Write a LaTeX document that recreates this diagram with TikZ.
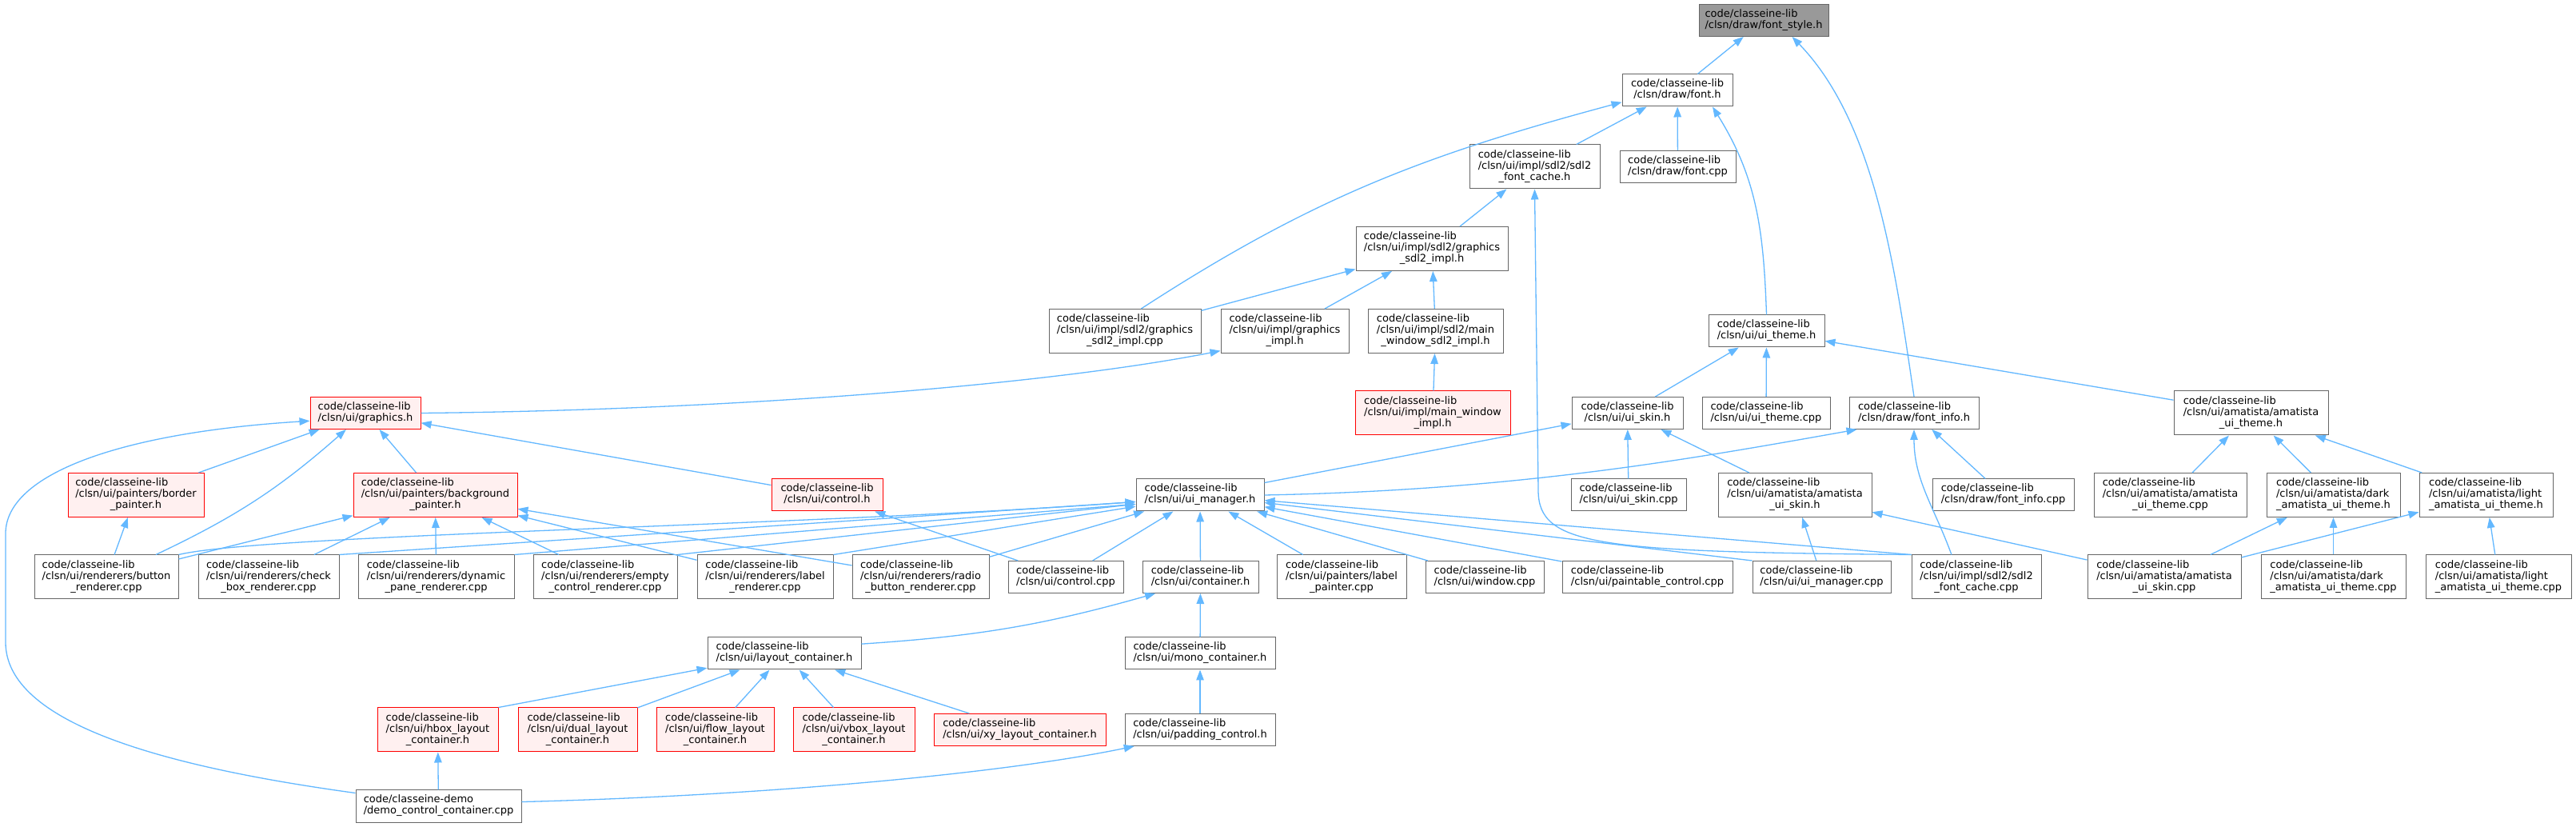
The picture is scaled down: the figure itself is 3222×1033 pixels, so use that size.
\documentclass[tikz,border=0pt]{standalone}
\usepackage{fontspec}
\setmainfont{DejaVu Sans}
\usepackage{tikz}
\usetikzlibrary{arrows.meta}
\definecolor{edgeblue}{HTML}{63B8FF}
\definecolor{boxgray}{HTML}{666666}
\definecolor{rootgray}{HTML}{999999}
\definecolor{truncred}{HTML}{FF0000}
\definecolor{truncfill}{HTML}{FFF0F0}
\newcommand{\libdir}{code/classeine-lib}
\newcommand{\twoline}[1]{\begin{tabular}{@{}l@{}}\libdir\\\multicolumn{1}{@{}c@{}}{#1}\end{tabular}}
\newcommand{\threeline}[2]{\begin{tabular}{@{}l@{}}\libdir\\#1\\\multicolumn{1}{@{}c@{}}{#2}\end{tabular}}
\tikzset{
    every node/.style={font=\fontsize{13}{14}\selectfont},
    filebox/.style={draw=boxgray,fill=white,line width=1pt,inner sep=0pt,minimum height=40pt},
    tallbox/.style={filebox,minimum height=55pt},
    trunc/.style={draw=truncred,fill=truncfill},
    rootbox/.style={fill=rootgray},
    incl/.style={draw=edgeblue,line width=1.3pt,-{Triangle[length=13pt,width=9.5pt]}}
}
\begin{document}
\begin{tikzpicture}[x=1pt,y=1pt]
\fill[white] (0,0) rectangle (3222,1033);
\useasboundingbox (0,0) rectangle (3222,1033);

\node[filebox,rootbox,minimum width=162pt] (fstyle) at (2206,1007.5) {\twoline{/clsn/draw/font\_style.h}};
\node[filebox,minimum width=138pt] (fonth) at (2098,920) {\twoline{/clsn/draw/font.h}};
\node[tallbox,minimum width=163pt] (sdlfch) at (1919.5,824.5) {\threeline{/clsn/ui/impl/sdl2/sdl2}{\_font\_cache.h}};
\node[filebox,minimum width=145pt] (fontcpp) at (2098.5,824.5) {\twoline{/clsn/draw/font.cpp}};
\node[tallbox,minimum width=190pt] (gsdlh) at (1791,722) {\threeline{/clsn/ui/impl/sdl2/graphics}{\_sdl2\_impl.h}};
\node[tallbox,minimum width=190pt] (gsdlcpp) at (1407,619) {\threeline{/clsn/ui/impl/sdl2/graphics}{\_sdl2\_impl.cpp}};
\node[tallbox,minimum width=160pt] (gimplh) at (1607,619) {\threeline{/clsn/ui/impl/graphics}{\_impl.h}};
\node[tallbox,minimum width=169pt] (mwsdlh) at (1795.5,619) {\threeline{/clsn/ui/impl/sdl2/main}{\_window\_sdl2\_impl.h}};
\node[filebox,minimum width=145pt] (uithemeh) at (2209.5,619) {\twoline{/clsn/ui/ui\_theme.h}};
\node[filebox,trunc,minimum width=138pt] (graphicsh) at (457,516.5) {\twoline{/clsn/ui/graphics.h}};
\node[tallbox,trunc,minimum width=194pt] (mwimplh) at (1792,516.5) {\threeline{/clsn/ui/impl/main\_window}{\_impl.h}};
\node[filebox,minimum width=139pt] (uiskinh) at (2035.5,516.5) {\twoline{/clsn/ui/ui\_skin.h}};
\node[filebox,minimum width=160pt] (uithemecpp) at (2209,516.5) {\twoline{/clsn/ui/ui\_theme.cpp}};
\node[filebox,minimum width=162pt] (fontinfoh) at (2394,516.5) {\twoline{/clsn/draw/font\_info.h}};
\node[tallbox,minimum width=193pt] (amathemeh) at (2815.5,516.5) {\threeline{/clsn/ui/amatista/amatista}{\_ui\_theme.h}};
\node[tallbox,trunc,minimum width=170pt] (borderh) at (170,414) {\threeline{/clsn/ui/painters/border}{\_painter.h}};
\node[tallbox,trunc,minimum width=205pt] (bgpainterh) at (544.5,414) {\threeline{/clsn/ui/painters/background}{\_painter.h}};
\node[filebox,trunc,minimum width=139pt] (controlh) at (1034.5,414) {\twoline{/clsn/ui/control.h}};
\node[filebox,minimum width=160pt] (uimgrh) at (1501,414) {\twoline{/clsn/ui/ui\_manager.h}};
\node[filebox,minimum width=144pt] (uiskincpp) at (2037,414) {\twoline{/clsn/ui/ui\_skin.cpp}};
\node[tallbox,minimum width=192pt] (amaskinh) at (2245,414) {\threeline{/clsn/ui/amatista/amatista}{\_ui\_skin.h}};
\node[filebox,minimum width=177pt] (fontinfocpp) at (2505.5,414) {\twoline{/clsn/draw/font\_info.cpp}};
\node[tallbox,minimum width=191pt] (amathemecpp) at (2714.5,414) {\threeline{/clsn/ui/amatista/amatista}{\_ui\_theme.cpp}};
\node[tallbox,minimum width=167pt] (darkh) at (2918.5,414) {\threeline{/clsn/ui/amatista/dark}{\_amatista\_ui\_theme.h}};
\node[tallbox,minimum width=167pt] (lighth) at (3109.5,414) {\threeline{/clsn/ui/amatista/light}{\_amatista\_ui\_theme.h}};
\node[tallbox,minimum width=180pt] (btnr) at (133,311.5) {\threeline{/clsn/ui/renderers/button}{\_renderer.cpp}};
\node[tallbox,minimum width=176pt] (chkr) at (336,311.5) {\threeline{/clsn/ui/renderers/check}{\_box\_renderer.cpp}};
\node[tallbox,minimum width=195pt] (dynr) at (545.5,311.5) {\threeline{/clsn/ui/renderers/dynamic}{\_pane\_renderer.cpp}};
\node[tallbox,minimum width=180pt] (empr) at (757,311.5) {\threeline{/clsn/ui/renderers/empty}{\_control\_renderer.cpp}};
\node[tallbox,minimum width=170pt] (lblr) at (957,311.5) {\threeline{/clsn/ui/renderers/label}{\_renderer.cpp}};
\node[tallbox,minimum width=171pt] (radr) at (1151.5,311.5) {\threeline{/clsn/ui/renderers/radio}{\_button\_renderer.cpp}};
\node[filebox,minimum width=144pt] (ctrlcpp) at (1333,311.5) {\twoline{/clsn/ui/control.cpp}};
\node[filebox,minimum width=145pt] (contnh) at (1501.5,311.5) {\twoline{/clsn/ui/container.h}};
\node[tallbox,minimum width=162pt] (lblpcpp) at (1678,311.5) {\threeline{/clsn/ui/painters/label}{\_painter.cpp}};
\node[filebox,minimum width=148pt] (wincpp) at (1857,311.5) {\twoline{/clsn/ui/window.cpp}};
\node[filebox,minimum width=213pt] (paintcpp) at (2060.5,311.5) {\twoline{/clsn/ui/paintable\_control.cpp}};
\node[filebox,minimum width=173pt] (uimgrcpp) at (2278.5,311.5) {\twoline{/clsn/ui/ui\_manager.cpp}};
\node[tallbox,minimum width=162pt] (sdlfccpp) at (2472,311.5) {\threeline{/clsn/ui/impl/sdl2/sdl2}{\_font\_cache.cpp}};
\node[tallbox,minimum width=192pt] (amaskincpp) at (2707,311.5) {\threeline{/clsn/ui/amatista/amatista}{\_ui\_skin.cpp}};
\node[tallbox,minimum width=181pt] (darkcpp) at (2918.5,311.5) {\threeline{/clsn/ui/amatista/dark}{\_amatista\_ui\_theme.cpp}};
\node[tallbox,minimum width=182pt] (lightcpp) at (3125,311.5) {\threeline{/clsn/ui/amatista/light}{\_amatista\_ui\_theme.cpp}};
\node[filebox,minimum width=192pt] (layouth) at (981,216) {\twoline{/clsn/ui/layout\_container.h}};
\node[filebox,minimum width=188pt] (monoh) at (1501,216) {\twoline{/clsn/ui/mono\_container.h}};
\node[tallbox,trunc,minimum width=151pt] (hboxh) at (547.5,120.5) {\threeline{/clsn/ui/hbox\_layout}{\_container.h}};
\node[tallbox,trunc,minimum width=149pt] (dualh) at (722.5,120.5) {\threeline{/clsn/ui/dual\_layout}{\_container.h}};
\node[tallbox,trunc,minimum width=147pt] (flowh) at (894.5,120.5) {\threeline{/clsn/ui/flow\_layout}{\_container.h}};
\node[tallbox,trunc,minimum width=152pt] (vboxh) at (1068,120.5) {\threeline{/clsn/ui/vbox\_layout}{\_container.h}};
\node[filebox,trunc,minimum width=215pt] (xyh) at (1275.5,120.5) {\twoline{/clsn/ui/xy\_layout\_container.h}};
\node[filebox,minimum width=188pt] (paddingh) at (1501,120.5) {\twoline{/clsn/ui/padding\_control.h}};
\node[filebox,minimum width=207pt] (democpp) at (548.5,25) {\begin{tabular}{@{}l@{}}code/classeine-demo\\/demo\_control\_container.cpp\end{tabular}};

\draw[incl] (fonth) -- (fstyle);
\draw[incl] (fontinfoh.north) .. controls (2370,700) and (2345,880) .. (fstyle.-30);
\draw[incl] (sdlfch) -- (fonth);
\draw[incl] (fontcpp) -- (fonth);
\draw[incl] (gsdlcpp.54) to[out=33,in=195] (fonth.192);
\draw[incl] (uithemeh.north) to[out=92,in=-58] (fonth.-25);
\draw[incl] (gsdlh) -- (sdlfch);
\draw[incl] (sdlfccpp.north west) .. controls (2000,343) and (1924,350) .. (1924,420) -- (sdlfch.south);
\draw[incl] (gsdlcpp) -- (gsdlh);
\draw[incl] (gimplh) -- (gsdlh);
\draw[incl] (mwsdlh) -- (gsdlh);
\draw[incl] (graphicsh.east) .. controls (900,520) and (1300,550) .. (gimplh.197);
\draw[incl] (mwimplh) -- (mwsdlh);
\draw[incl] (uiskinh) -- (uithemeh);
\draw[incl] (uithemecpp) -- (uithemeh);
\draw[incl] (amathemeh) -- (uithemeh);
\draw[incl] (uimgrh.east) .. controls (1900,420) and (2120,460) .. (fontinfoh.196);
\draw[incl] (sdlfccpp.138) to[out=110,in=-90] (fontinfoh.south);
\draw[incl] (fontinfocpp) -- (fontinfoh);
\draw[incl] (borderh) -- (graphicsh);
\draw[incl] (bgpainterh) -- (graphicsh);
\draw[incl] (controlh) -- (graphicsh);
\draw[incl] (btnr) to[bend right=8] (graphicsh);
\draw[incl] (democpp.171) .. controls (200,75) and (7,130) .. (7,230) -- (7,366) .. controls (7,440) and (150,492) .. (graphicsh.188);
\draw[incl] (uimgrh) -- (uiskinh);
\draw[incl] (uiskincpp) -- (uiskinh);
\draw[incl] (amaskinh) -- (uiskinh);
\draw[incl] (amathemecpp) -- (amathemeh);
\draw[incl] (darkh) -- (amathemeh);
\draw[incl] (lighth) -- (amathemeh);
\draw[incl] (btnr) -- (borderh);
\draw[incl] (btnr) -- (bgpainterh);
\draw[incl] (chkr) -- (bgpainterh);
\draw[incl] (dynr) -- (bgpainterh);
\draw[incl] (empr) -- (bgpainterh);
\draw[incl] (lblr) -- (bgpainterh);
\draw[incl] (radr) -- (bgpainterh);
\draw[incl] (ctrlcpp) -- (controlh);
\draw[incl] (btnr.north east) .. controls (330,365) and (1000,375) .. (uimgrh.186);
\draw[incl] (chkr.north east) -- (uimgrh.186);
\draw[incl] (dynr.north east) -- (uimgrh.188);
\draw[incl] (empr.north east) -- (uimgrh.188);
\draw[incl] (lblr.north east) -- (uimgrh.190);
\draw[incl] (radr) -- (uimgrh);
\draw[incl] (ctrlcpp) -- (uimgrh);
\draw[incl] (contnh) -- (uimgrh);
\draw[incl] (lblpcpp) -- (uimgrh);
\draw[incl] (wincpp) -- (uimgrh);
\draw[incl] (paintcpp) -- (uimgrh);
\draw[incl] (uimgrcpp.north west) -- (uimgrh);
\draw[incl] (sdlfccpp.north west) -- (uimgrh);
\draw[incl] (uimgrcpp) -- (amaskinh);
\draw[incl] (amaskincpp) -- (amaskinh);
\draw[incl] (amaskincpp) -- (darkh);
\draw[incl] (amaskincpp) -- (lighth);
\draw[incl] (darkcpp) -- (darkh);
\draw[incl] (lightcpp) -- (lighth);
\draw[incl] (layouth.7) to[bend right=6] (contnh.200);
\draw[incl] (monoh) -- (contnh);
\draw[incl] (hboxh.north east) -- (layouth);
\draw[incl] (dualh) -- (layouth);
\draw[incl] (flowh) -- (layouth);
\draw[incl] (vboxh) -- (layouth);
\draw[incl] (xyh) -- (layouth);
\draw[incl] (paddingh) -- (monoh);
\draw[incl] (democpp) -- (hboxh);
\draw[incl] (democpp.3) .. controls (950,38) and (1250,65) .. (paddingh.194);
\end{tikzpicture}
\end{document}
